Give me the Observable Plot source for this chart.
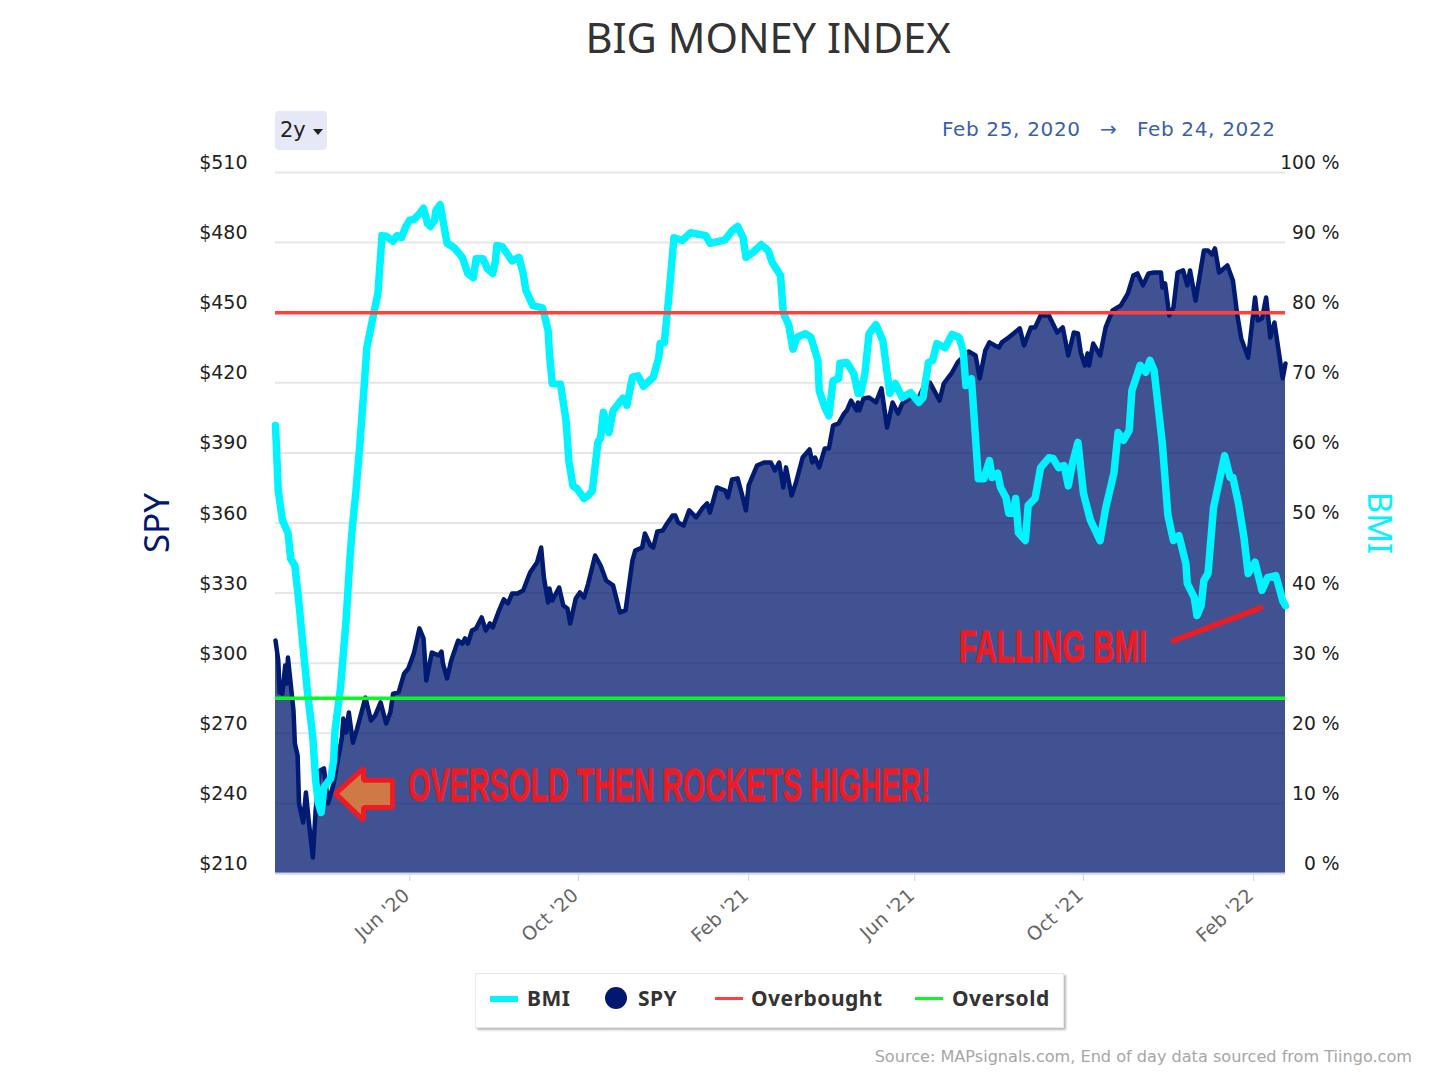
<!DOCTYPE html>
<html><head><meta charset="utf-8">
<script src="https://cdn.jsdelivr.net/npm/d3@7"></script>
<script src="https://cdn.jsdelivr.net/npm/@observablehq/plot@0.6"></script>
<style>
html,body{margin:0;padding:0;background:#fff;overflow:hidden}
#page{position:relative;width:1430px;height:1072px;font-family:"DejaVu Sans",sans-serif}
#page svg{position:absolute;left:0;top:0}
.ov{position:absolute;white-space:nowrap}
#title{left:0;width:1536px;top:9px;text-align:center;font:400 41.6px "Noto Sans";color:#333}
.range{top:117px;font-size:20px;letter-spacing:.65px;color:#3a5fad}
#btn{left:275px;top:111px;width:52px;height:39px;background:#e6e9f5;border-radius:4px;font-size:21px;color:#222;line-height:39px;text-indent:5px}
#btn i{display:inline-block;width:0;height:0;border:5px solid transparent;border-top:6px solid #222;border-bottom:0;margin-left:7px;vertical-align:2px}
.at{transform-origin:center;font-family:"Noto Sans"}
#legend{left:475px;top:973px;width:587px;height:53px;background:#fff;border:1px solid #e8e8e8;box-shadow:2px 2px 2px #bbb}
.li{position:absolute;top:10px;font:700 21px "Noto Sans";letter-spacing:.5px;color:#333}
.sw{position:absolute}
#src{right:18px;top:1047px;font-size:16.1px;color:#a6a6a6}
</style></head><body><div id="page"></div>
<script>
const startDate = Date.UTC(2020,1,25), endDate = Date.UTC(2022,1,24);
const asDate = d => new Date(startDate + d*864e5);

const bmiDays = [0,2,5,9,11,14,17,20,23,27,29,31,33,35,40,42,43,47,51,54,56,58,61,64,66,71,74,77,80,85,88,91,94,97,100,104,107,110,112,115,116,119,121,124,129,135,139,143,145,150,153,157,159,160,164,171,176,179,181,186,193,197,198,200,206,210,212,215,218,223,226,229,233,235,237,241,244,251,254,258,262,266,273,277,278,281,284,288,294,300,311,314,325,330,334,338,340,345,351,356,359,365,367,371,374,377,383,387,392,393,397,400,403,407,408,413,418,421,423,426,429,434,439,444,448,453,459,465,468,472,475,478,484,489,494,497,499,503,508,512,516,518,522,524,528,530,533,535,537,542,544,549,553,559,562,566,570,573,576,580,584,589,596,600,606,609,613,617,619,625,629,632,635,641,645,649,653,658,659,664,666,669,671,674,678,686,690,692,696,700,703,708,713,717,723,728,730];
const bmiValues = [63.9,54.6,50.4,48.6,44.9,43.9,38.5,32.2,26.1,19.4,13.3,10.0,8.7,12.3,13.6,16.1,20.4,26.5,36.1,45.6,50.4,54.2,61.3,69.3,75.0,79.9,82.7,91.0,90.9,90.2,91.0,90.7,92.2,93.2,93.3,94.1,94.9,92.7,92.3,93.2,94.6,95.4,93.2,89.9,89.3,87.9,85.6,85.0,87.7,87.7,86.3,85.6,87.4,89.6,89.4,87.4,87.9,85.6,83.2,81.0,80.7,77.5,74.2,69.9,69.8,64.6,58.9,55.3,54.9,53.5,53.9,54.6,61.5,62.2,65.8,62.9,66.0,67.8,66.8,70.8,71.0,69.5,70.8,73.6,75.6,75.7,81.7,90.7,90.3,91.4,91.0,89.9,90.4,91.7,92.3,90.7,87.9,88.6,89.7,88.9,87.2,85.3,80.0,78.2,74.8,76.5,77.0,76.5,73.2,68.9,66.5,65.3,70.3,70.6,72.8,72.9,71.3,68.5,68.5,71.3,77.0,78.3,76.0,68.5,69.9,67.9,68.6,67.2,67.9,72.9,73.2,75.6,75.0,76.9,76.5,74.6,69.6,70.6,56.3,56.3,58.9,56.5,57.1,55.1,53.6,51.4,51.4,53.5,48.6,47.5,52.5,53.5,57.9,59.3,59.2,57.9,58.2,55.3,58.5,61.5,54.2,50.4,47.5,52.1,57.1,62.9,61.8,63.2,68.9,72.5,71.5,73.2,71.8,61.3,51.1,47.5,48.2,44.2,41.4,39.4,36.8,38.2,41.8,42.8,52.2,59.6,56.5,56.5,52.8,47.9,42.8,44.4,40.4,42.2,42.5,38.9,38.2];

const spyDays = [0,2,3,5,7,8,9,13,14,16,17,20,22,24,27,29,32,35,38,42,48,49,51,53,56,59,65,69,72,76,80,83,85,89,93,96,100,104,107,109,113,118,120,121,124,127,132,135,137,139,142,145,149,152,155,157,161,165,168,171,175,179,184,189,192,194,197,198,200,205,208,211,213,217,220,223,226,231,235,239,244,249,253,258,260,265,267,271,273,276,280,283,287,289,291,295,299,304,309,312,314,319,325,327,330,334,337,340,342,348,353,358,361,364,367,369,373,376,381,386,388,390,393,397,400,403,407,411,413,416,420,421,422,425,429,434,438,442,446,450,453,459,465,468,473,480,483,489,493,501,506,509,513,516,520,523,525,529,538,541,546,549,553,559,565,569,573,577,580,582,585,587,588,591,596,600,605,611,616,620,623,627,631,635,640,641,643,646,649,652,656,659,661,665,671,674,677,679,682,688,692,695,698,703,708,710,713,716,719,722,728,730];
const spyValues = [309.7,301.2,287.5,287,299,291.3,302.4,279.8,265.6,260.5,240,231.8,244.7,232.7,216.8,237,254,255,240,248.5,268.2,276.3,270.3,278.9,266,272,285.3,275.5,277.6,283.2,274.2,278.9,287,287.5,295.6,297.7,304.2,314.9,310.6,292.6,304.6,303.3,305,299.9,293.5,301.2,309.7,308.4,310.6,308.4,314,314.9,319.6,314,317,315.3,321.7,327.3,325.6,329.8,329.8,331.1,338.8,343.1,349.5,336.7,326,332,326.8,332.4,324.7,323.4,317,327.7,330.3,328.1,334.1,346.1,341.8,335.4,333.3,321.7,322.6,344,348.2,349.5,355.5,350.4,349.5,356.4,356.8,359.8,363.2,363.2,360.2,358.9,365.4,362.4,366.6,368.4,364.5,375.2,373.9,370.9,378.6,379.1,372.6,365.4,376.1,384.6,385.9,385.9,382.5,385.9,375.2,383.8,371.8,376.9,388,391.5,385.9,388,383.8,391.9,391.9,401.7,402.6,406.9,408.2,412.4,408.2,411.6,408.2,413.3,413.7,411.6,417.6,400.9,411.6,406.9,411.2,413.7,413.7,417.6,420.1,412.4,419.7,424.4,428.7,433.4,431.7,421.9,433.8,437.3,436,435.1,437.3,439,443.3,436,443.7,443.7,448.8,448.8,441.5,443.7,431.7,441.5,441.1,433,427.4,432.6,427.4,436.8,431.7,443.7,451,453.1,458.2,465.9,466.8,461.7,466.8,467.2,467.2,460.8,462.5,448.8,452.2,467.2,468.1,461.7,468.1,455.2,476.6,476.6,474.9,477.5,467.2,470.2,463.8,449.7,439,430.8,456.5,446.7,447.5,456.5,439.4,445.8,421.9,428.3];

const leftTicks = [210,240,270,300,330,360,390,420,450,480,510];
const rightTickLabels = ["0 %","10 %","20 %","30 %","40 %","50 %","60 %","70 %","80 %","90 %","100 %"];
const xTickDates = ["2020-06-01","2020-10-01","2021-02-01","2021-06-01","2021-10-01","2022-02-01"];
const xTickLabels = ["Jun '20","Oct '20","Feb '21","Jun '21","Oct '21","Feb '22"];
const overbought = 80, oversold = 25;

const arrowDays = [43.4,63.6,63.6,84.6,84.6,63.6,63.6,43.4];
const arrowPct  = [11.4,15,13.3,13.3,9.4,9.4,7.6,11.4];
const slashDays = [649,712];
const slashPct  = [33.2,37.9];

const pctToSpy = p => 210 + p*3;
const bmi = bmiDays.map((d,i)=>({date:asDate(d),v:pctToSpy(bmiValues[i])}));
const spy = spyDays.map((d,i)=>({date:asDate(d),v:spyValues[i]}));
const arrow = arrowDays.map((d,i)=>({date:asDate(d),v:pctToSpy(arrowPct[i])}));
const slash = slashDays.map((d,i)=>({date:asDate(d),v:pctToSpy(slashPct[i])}));
const xTicks = xTickDates.map(s=>new Date(s));
const red = "#ed1c24";

const chart = Plot.plot({
  width:1430, height:1072,
  marginLeft:275, marginRight:145, marginTop:172, marginBottom:199,
  style:{background:"transparent",fontFamily:"DejaVu Sans"},
  x:{type:"utc",domain:[new Date(startDate),new Date(endDate)]},
  y:{domain:[210,510]},
  marks:[
    Plot.gridY(leftTicks,{stroke:"#e6e6e6",strokeOpacity:1,strokeWidth:2}),
    Plot.areaY(spy,{x:"date",y1:()=>210,y2:"v",fill:"#00186e",fillOpacity:0.75}),
    Plot.line(spy,{x:"date",y:"v",stroke:"#011b72",strokeWidth:4.5}),
    Plot.line(bmi,{x:"date",y:"v",stroke:"#00f3ff",strokeWidth:7.5}),
    Plot.ruleY([pctToSpy(overbought)],{stroke:"#ff4040",strokeWidth:3.5}),
    Plot.ruleY([pctToSpy(oversold)],{stroke:"#0af728",strokeWidth:3.5}),
    Plot.ruleY([210],{stroke:"#ccd6eb",strokeWidth:2}),
    Plot.axisY(leftTicks,{anchor:"left",label:null,tickSize:0,tickPadding:28,dy:-9.5,fontSize:19,fill:"#222",tickFormat:v=>"$"+v}),
    Plot.axisY(leftTicks,{anchor:"right",label:null,tickSize:0,tickPadding:54,textAnchor:"end",dy:-9.5,fontSize:18.7,fill:"#222",tickFormat:(v,i)=>rightTickLabels[i]}),
    Plot.axisX(xTicks,{label:null,tickSize:8,stroke:"#ccd6eb",fill:"none",tickFormat:()=>""}),
    Plot.axisX(xTicks,{label:null,tickSize:0,fill:"#666",fontSize:19,tickRotate:-42,tickPadding:19,dx:-3,tickFormat:(d,i)=>xTickLabels[i]}),
    Plot.line(arrow,{x:"date",y:"v",stroke:red,strokeWidth:5,fill:"#cf7a45",strokeLinejoin:"miter",curve:"linear-closed"}),
    Plot.line(slash,{x:"date",y:"v",stroke:red,strokeWidth:5.5}),
    Plot.text(["OVERSOLD THEN ROCKETS HIGHER!"],{x:()=>asDate(96),y:()=>241,text:d=>d,textAnchor:"start",lineAnchor:"bottom",fill:red,stroke:red,strokeWidth:0.8,fontWeight:"bold",fontFamily:"Liberation Sans",fontSize:47,className:"note-a"}),
    Plot.text(["FALLING BMI"],{x:()=>asDate(494),y:()=>300.3,text:d=>d,textAnchor:"start",lineAnchor:"bottom",fill:red,stroke:red,strokeWidth:0.8,fontWeight:"bold",fontFamily:"Liberation Sans",fontSize:45,className:"note-b"})
  ]
});
d3.select(chart).selectAll(".note-a text").attr("textLength",522).attr("lengthAdjust","spacingAndGlyphs");
d3.select(chart).selectAll(".note-b text").attr("textLength",188).attr("lengthAdjust","spacingAndGlyphs");

const page = document.getElementById("page");
page.append(chart);
const add = (html) => { const t=document.createElement("template"); t.innerHTML=html.trim(); page.append(t.content.firstChild); };
add('<div class="ov" id="title">BIG MONEY INDEX</div>');
add('<div class="ov" id="btn">2y<i></i></div>');
add('<div class="ov range" style="left:942px">Feb 25, 2020</div>');
add('<div class="ov range" style="left:1100px">→</div>');
add('<div class="ov range" style="left:1137px">Feb 24, 2022</div>');
add('<div class="ov at" style="left:155px;top:523px;font-size:35px;color:#00186e;transform:translate(-50%,-50%) rotate(-90deg)">SPY</div>');
add('<div class="ov at" style="left:1380px;top:523px;font-size:33px;color:#00f3ff;transform:translate(-50%,-50%) rotate(90deg)">BMI</div>');
add(`<div class="ov" id="legend">
<div class="sw" style="left:14px;top:22px;width:28px;height:6px;background:#00f3ff"></div><div class="li" style="left:51px">BMI</div>
<div class="sw" style="left:129px;top:13px;width:22px;height:22px;border-radius:50%;background:#00186e"></div><div class="li" style="left:162px">SPY</div>
<div class="sw" style="left:239px;top:23px;width:28px;height:3px;background:#ff4040"></div><div class="li" style="left:275px">Overbought</div>
<div class="sw" style="left:439px;top:23px;width:28px;height:3px;background:#0af728"></div><div class="li" style="left:476px">Oversold</div>
</div>`);
add('<div class="ov" id="src">Source: MAPsignals.com, End of day data sourced from Tiingo.com</div>');
</script></body></html>
